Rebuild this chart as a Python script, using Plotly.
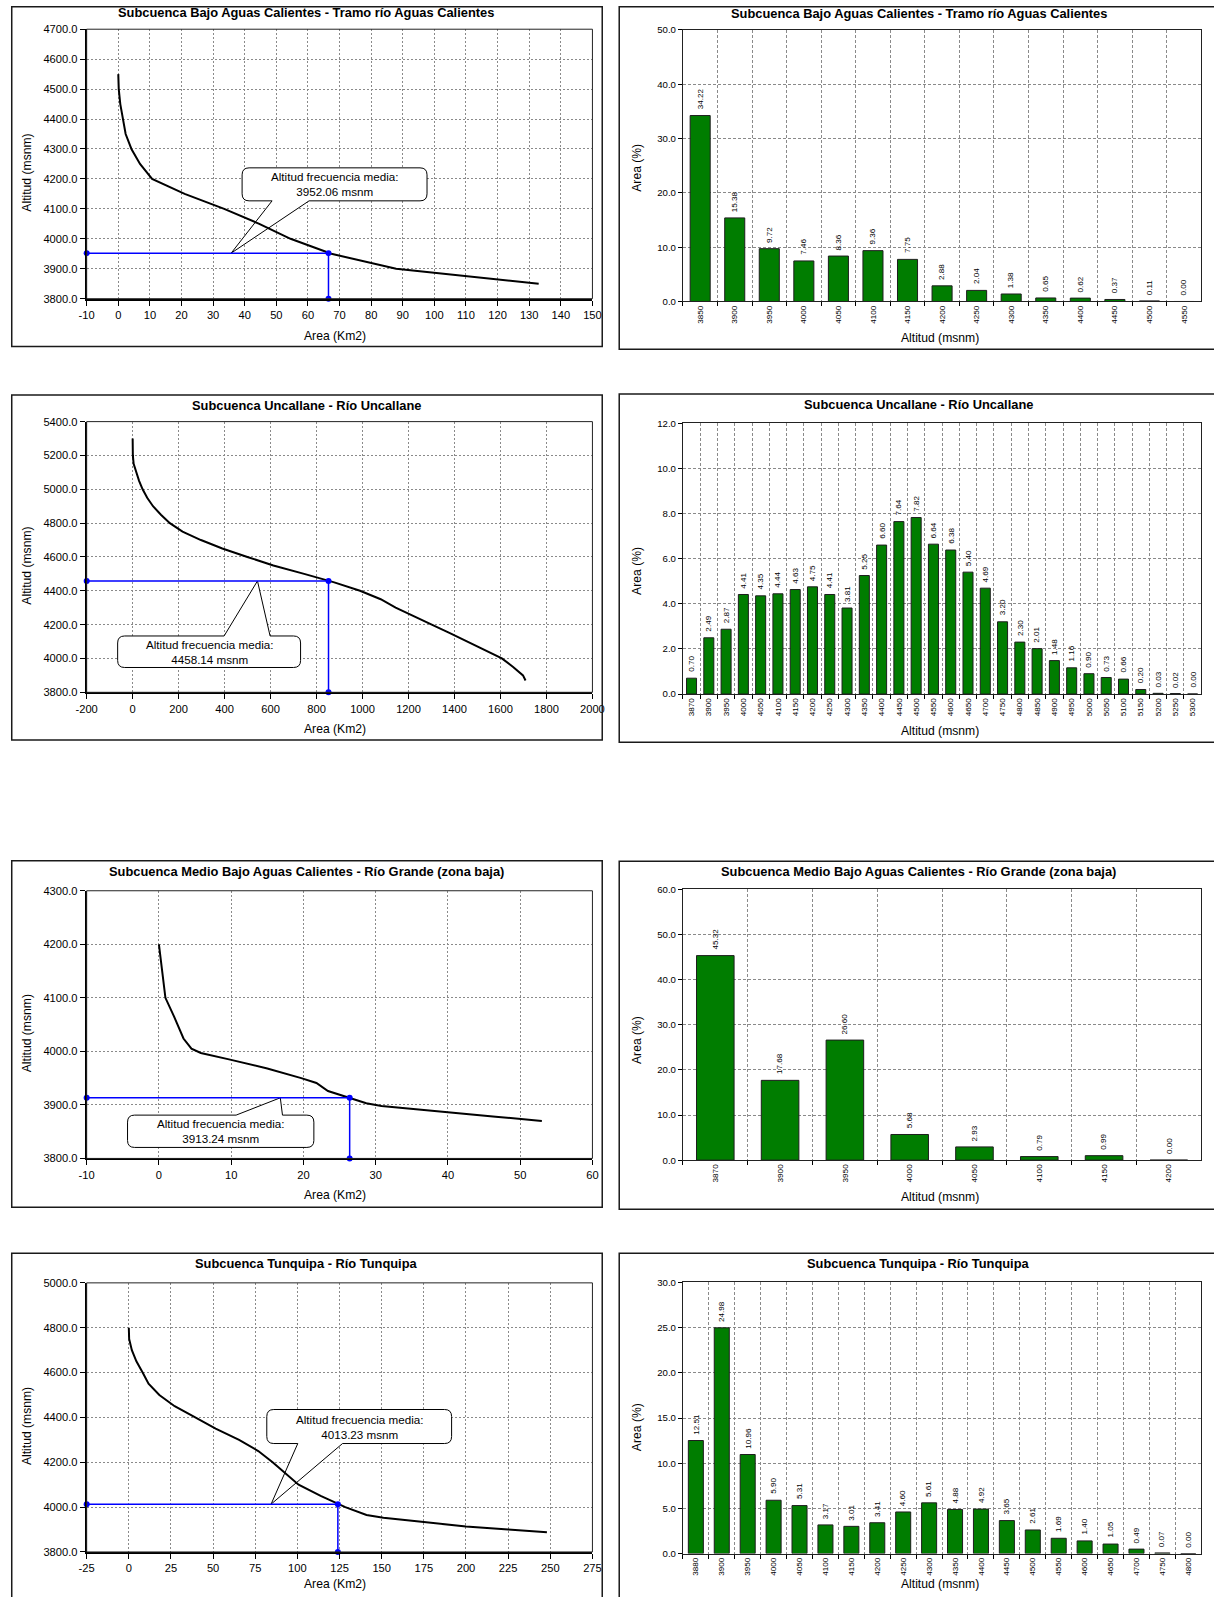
import plotly.graph_objects as go

# figure size; the page places the figure with a small border and a slight
# shrink, so layout positions below are given in page pixels and mapped back
W, H = 1214, 1597
SX, OX = 0.9815, 10.8
SY, OY = 0.9922, 6.2
FONT = "Liberation Sans, Arial, sans-serif"
FS = 1.0 / 0.987   # font compensation for the shrink

# ---------------- data ----------------
# Subcuenca Bajo Aguas Calientes - Tramo río Aguas Calientes
ac_title = "Subcuenca Bajo Aguas Calientes - Tramo río Aguas Calientes"
ac_curve_alt = [4550, 4500, 4450, 4400, 4350, 4300, 4250, 4200, 4150, 4100, 4050, 4000, 3950, 3900, 3850]
ac_curve_area = [0.0, 0.15, 0.64, 1.46, 2.33, 4.16, 6.88, 10.7, 21.0, 33.5, 44.6, 54.5, 67.4, 87.9, 133.0]
ac_mean_alt = 3952.06
ac_mean_area = 66.5
ac_bar_alt = ["3850", "3900", "3950", "4000", "4050", "4100", "4150", "4200",
              "4250", "4300", "4350", "4400", "4450", "4500", "4550"]
ac_bar_pct = [34.22, 15.38, 9.72, 7.46, 8.36, 9.36, 7.75, 2.88, 2.04, 1.38, 0.65, 0.62, 0.37, 0.11, 0.00]

# Subcuenca Uncallane - Río Uncallane
un_title = "Subcuenca Uncallane - Río Uncallane"
un_curve_alt = [5300, 5250, 5200, 5150, 5100, 5050, 5000, 4950, 4900, 4850, 4800, 4750, 4700, 4650,
                4600, 4550, 4500, 4450, 4400, 4350, 4300, 4250, 4200, 4150, 4100, 4050, 4000, 3950,
                3900, 3870]
un_curve_area = [0, 0.3, 0.9, 4.3, 15.6, 28.0, 43.4, 63.3, 88.6, 123, 162, 217, 297, 390,
                 499, 612, 746, 877, 989, 1079, 1144, 1220, 1301, 1380, 1456, 1530, 1606, 1655,
                 1698, 1709]
un_mean_alt = 4458.14
un_mean_area = 852
un_bar_alt = ["3870", "3900", "3950", "4000", "4050", "4100", "4150", "4200", "4250", "4300",
              "4350", "4400", "4450", "4500", "4550", "4600", "4650", "4700", "4750", "4800",
              "4850", "4900", "4950", "5000", "5050", "5100", "5150", "5200", "5250", "5300"]
un_bar_pct = [0.70, 2.49, 2.87, 4.41, 4.35, 4.44, 4.63, 4.75, 4.41, 3.81,
              5.25, 6.60, 7.64, 7.82, 6.64, 6.38, 5.40, 4.69, 3.20, 2.30,
              2.01, 1.48, 1.16, 0.90, 0.73, 0.66, 0.20, 0.03, 0.02, 0.00]

# Subcuenca Medio Bajo Aguas Calientes - Río Grande (zona baja)
mb_title = "Subcuenca Medio Bajo Aguas Calientes - Río Grande (zona baja)"
mb_curve_alt = [4200, 4100, 4065, 4024, 4005, 3997, 3985, 3968, 3950, 3941, 3926, 3913,
                3903, 3898, 3891, 3884, 3878, 3870]
mb_curve_area = [0.0, 0.9, 2.1, 3.4, 4.5, 5.8, 9.7, 15.0, 19.7, 21.8, 23.4, 26.4,
                 28.7, 30.8, 36.0, 41.3, 46.6, 53.0]
mb_mean_alt = 3913.24
mb_mean_area = 26.4
mb_bar_alt = ["3870", "3900", "3950", "4000", "4050", "4100", "4150", "4200"]
mb_bar_pct = [45.32, 17.68, 26.60, 5.68, 2.93, 0.79, 0.99, 0.00]

# Subcuenca Tunquipa - Río Tunquipa
tq_title = "Subcuenca Tunquipa - Río Tunquipa"
tq_curve_alt = [4800, 4750, 4700, 4650, 4600, 4550, 4500, 4450, 4400, 4350, 4300, 4250, 4200,
                4150, 4100, 4050, 4000, 3965, 3952, 3933, 3914, 3900, 3888]
tq_curve_area = [0.0, 0.2, 1.8, 4.5, 8.2, 11.7, 18.1, 27.2, 39.4, 51.5, 65.4, 76.8, 85.3,
                 92.8, 100.7, 113.8, 128.4, 141, 151, 175, 200, 225, 248]
tq_mean_alt = 4013.23
tq_mean_area = 124.0
tq_bar_alt = ["3880", "3900", "3950", "4000", "4050", "4100", "4150", "4200", "4250", "4300",
              "4350", "4400", "4450", "4500", "4550", "4600", "4650", "4700", "4750", "4800"]
tq_bar_pct = [12.51, 24.98, 10.96, 5.90, 5.31, 3.17, 3.01, 3.41, 4.60, 5.61,
              4.88, 4.92, 3.65, 2.61, 1.69, 1.40, 1.05, 0.49, 0.07, 0.00]

# ---------------- layout geometry (page pixels) ----------------
LEFT_X = (86.5, 592.5)
RIGHT_X = (683.0, 1207.0)
LEFT_Y = [(29.4, 298.8), (421.7, 692.3), (890.7, 1158.3), (1282.7, 1551.7)]
RIGHT_Y = [(30.0, 301.6), (423.3, 694.0), (889.3, 1160.0), (1282.3, 1553.3)]
PANEL_L = [(2.5, 346.7), (395.0, 740.0), (860.7, 1207.0), (1253.0, 1640.0)]
PANEL_R = [(2.7, 349.3), (394.0, 742.3), (861.3, 1209.0), (1253.0, 1640.0)]
YTITLE_R = [168, 571, 1040, 1427]
XTITLE_MAX = 1584

panels = [
    dict(title=ac_title, alt=ac_curve_alt, area=ac_curve_area, mean=ac_mean_alt, xi=ac_mean_area,
         xr=(-10, 150), xd=10, yr=(3800, 4700), yd=100,
         cats=ac_bar_alt, pct=ac_bar_pct, br=(0, 50), bd=10,
         box=(242, 168, 427, 201), base=(272, 309), tipx=35.7, side="bottom"),
    dict(title=un_title, alt=un_curve_alt, area=un_curve_area, mean=un_mean_alt, xi=un_mean_area,
         xr=(-200, 2000), xd=200, yr=(3800, 5400), yd=200,
         cats=un_bar_alt, pct=un_bar_pct, br=(0, 12), bd=2,
         box=(117.5, 636, 300.5, 667.5), base=(224, 270), tipx=543, side="top"),
    dict(title=mb_title, alt=mb_curve_alt, area=mb_curve_area, mean=mb_mean_alt, xi=mb_mean_area,
         xr=(-10, 60), xd=10, yr=(3800, 4300), yd=100,
         cats=mb_bar_alt, pct=mb_bar_pct, br=(0, 60), bd=10,
         box=(127.4, 1115, 313.8, 1147.3), base=(236, 282.4), tipx=16.8, side="top"),
    dict(title=tq_title, alt=tq_curve_alt, area=tq_curve_area, mean=tq_mean_alt, xi=tq_mean_area,
         xr=(-25, 275), xd=25, yr=(3800, 5000), yd=200,
         cats=tq_bar_alt, pct=tq_bar_pct, br=(0, 30), bd=5,
         box=(266.7, 1409.3, 451.6, 1443.3), base=(297.7, 342.5), tipx=84.4, side="bottom"),
]


def fx(t, lo=0.75, hi=W - 0.75):
    px = (t - OX) / SX
    return min(hi, max(lo, px)) / W


def fy(t, lo=0.75, hi=H - 0.75):
    py = (t - OY) / SY
    return 1 - min(hi, max(lo, py)) / H


def fxu(t):
    return (t - OX) / SX / W


def fyu(t):
    return 1 - (t - OY) / SY / H


fig = go.Figure()
layout = dict(
    width=W, height=H, margin=dict(l=0, r=0, t=0, b=0),
    paper_bgcolor="white", plot_bgcolor="white",
    showlegend=False, bargap=0.42,
    font=dict(family=FONT, color="black"),
)
shapes = []
annotations = []

for i, p in enumerate(panels):
    la, ra = 2 * i + 1, 2 * i + 2
    lx, ly = f"x{la}", f"y{la}"
    rx, ry = f"x{ra}", f"y{ra}"
    y0, y1 = LEFT_Y[i]
    ry0, ry1 = RIGHT_Y[i]

    # ---- hypsometric curve panel ----
    xt = list(range(p["xr"][0], p["xr"][1] + 1, p["xd"]))
    layout[f"xaxis{la}"] = dict(
        domain=[fx(LEFT_X[0]), fx(LEFT_X[1])], anchor=ly, range=list(p["xr"]),
        tickmode="array", tickvals=xt, ticktext=[str(v) for v in xt],
        showgrid=True, gridcolor="#8a8a8a", griddash="2px,2px", gridwidth=1,
        zeroline=False, showline=True, linecolor="black", linewidth=2,
        ticks="outside", ticklen=5, tickcolor="black", tickfont=dict(size=11 * FS, family=FONT),
    )
    layout[f"yaxis{la}"] = dict(
        domain=[fy(y1), fy(y0)], anchor=lx, range=list(p["yr"]), dtick=p["yd"],
        tick0=p["yr"][0], tickformat=".1f", showgrid=True, gridcolor="#8a8a8a",
        griddash="2px,2px", gridwidth=1, zeroline=False, showline=True, linecolor="black",
        linewidth=2, ticks="outside", ticklen=5, tickcolor="black",
        tickfont=dict(size=11 * FS, family=FONT),
    )
    fig.add_trace(go.Scatter(
        x=p["area"], y=p["alt"], mode="lines", line=dict(color="black", width=2),
        xaxis=lx, yaxis=ly, hoverinfo="skip",
    ))
    fig.add_trace(go.Scatter(
        x=[p["xr"][0], p["xi"], p["xi"]], y=[p["mean"], p["mean"], p["yr"][0]],
        mode="lines+markers", line=dict(color="#0000ff", width=1.5),
        marker=dict(color="#0000ff", size=6), cliponaxis=False,
        xaxis=lx, yaxis=ly, hoverinfo="skip",
    ))

    # callout bubble, built in page pixels and converted to data units of this subplot
    def to_data(px, py, p=p, y0=y0, y1=y1):
        xa, xb = p["xr"]
        ya, yb = p["yr"]
        dx = xa + (px - LEFT_X[0]) / (LEFT_X[1] - LEFT_X[0]) * (xb - xa)
        dy = yb - (py - y0) / (y1 - y0) * (yb - ya)
        return f"{dx:.4f},{dy:.4f}"

    L, T, R, B = p["box"]
    b0, b1 = p["base"]
    r = 7
    tip = f"{p['tipx']:.4f},{p['mean']:.4f}"
    path = "M " + to_data(L + r, T)
    if p["side"] == "top":
        path += " L " + to_data(b0, T) + " L " + tip + " L " + to_data(b1, T)
    path += " L " + to_data(R - r, T)
    path += " Q " + to_data(R, T) + " " + to_data(R, T + r)
    path += " L " + to_data(R, B - r)
    path += " Q " + to_data(R, B) + " " + to_data(R - r, B)
    if p["side"] == "bottom":
        path += " L " + to_data(b1, B) + " L " + tip + " L " + to_data(b0, B)
    path += " L " + to_data(L + r, B)
    path += " Q " + to_data(L, B) + " " + to_data(L, B - r)
    path += " L " + to_data(L, T + r)
    path += " Q " + to_data(L, T) + " " + to_data(L + r, T) + " Z"
    shapes.append(dict(type="path", path=path, xref=lx, yref=ly, layer="between",
                       fillcolor="white", line=dict(color="black", width=1)))
    annotations.append(dict(
        x=fxu((L + R) / 2), y=fyu((T + B) / 2), xref="paper", yref="paper",
        text=f"Altitud frecuencia media:<br>{p['mean']:.2f} msnm", showarrow=False,
        font=dict(size=11.5 * FS, family=FONT, color="black"), align="center",
        xanchor="center", yanchor="middle",
    ))

    # plot frame and panel frame
    shapes.append(dict(type="rect", xref="paper", yref="paper",
                       x0=fx(LEFT_X[0]), x1=fx(LEFT_X[1]), y0=fy(y1), y1=fy(y0),
                       line=dict(color="#222222", width=1)))
    pt, pb = PANEL_L[i]
    shapes.append(dict(type="rect", xref="paper", yref="paper",
                       x0=fx(7.2), x1=fx(602.3), y0=fy(pb, hi=H + 20), y1=fy(pt),
                       line=dict(color="#1a1a1a", width=1.5)))
    annotations.append(dict(x=fxu(306), y=fyu(pt + 10.5), xref="paper", yref="paper",
                            text=f"<b>{p['title']}</b>", showarrow=False,
                            font=dict(size=12.7 * FS, family=FONT), xanchor="center", yanchor="middle"))
    annotations.append(dict(x=fxu(335), y=fyu(min(y1 + 37, XTITLE_MAX)), xref="paper", yref="paper",
                            text="Area (Km2)", showarrow=False,
                            font=dict(size=12 * FS, family=FONT), xanchor="center", yanchor="middle"))
    annotations.append(dict(x=fxu(27), y=fyu((y0 + y1) / 2 + 8.5), xref="paper", yref="paper",
                            text="Altitud (msnm)", showarrow=False, textangle=-90,
                            font=dict(size=12 * FS, family=FONT), xanchor="center", yanchor="middle"))

    # ---- area distribution bar panel ----
    n = len(p["cats"])
    layout[f"xaxis{ra}"] = dict(
        domain=[fx(RIGHT_X[0]), fx(RIGHT_X[1])], anchor=ry, type="category",
        range=[-0.5, n - 0.5],
        tickson="boundaries", ticks="outside", ticklen=4, tickcolor="black", tickangle=-90,
        tickfont=dict(size=8 * FS, family=FONT), showgrid=True, gridcolor="#8a8a8a",
        griddash="3px,2px", gridwidth=1, showline=True, mirror=True,
        linecolor="#222222", linewidth=1, zeroline=False,
    )
    layout[f"yaxis{ra}"] = dict(
        domain=[fy(ry1), fy(ry0)], anchor=rx, range=list(p["br"]), dtick=p["bd"],
        tick0=0, tickformat=".1f", ticks="outside", ticklen=4, tickcolor="black",
        tickfont=dict(size=9.5 * FS, family=FONT), showgrid=True, gridcolor="#8a8a8a",
        griddash="3px,2px", gridwidth=1, showline=True, mirror=True,
        linecolor="#222222", linewidth=1, zeroline=False,
    )
    fig.add_trace(go.Bar(
        x=p["cats"], y=p["pct"],
        marker=dict(color="#007d00", line=dict(color="#1e1e1e", width=1)),
        xaxis=rx, yaxis=ry, hoverinfo="skip",
    ))
    # value labels above each bar, rotated (x given as category position)
    for j, v in enumerate(p["pct"]):
        annotations.append(dict(
            x=j, y=v, xref=rx, yref=ry, text=f"{v:.2f}", showarrow=False, textangle=-90,
            xanchor="center", yanchor="bottom", yshift=4,
            font=dict(size=8 * FS, family=FONT, color="black"),
        ))
    qt, qb = PANEL_R[i]
    shapes.append(dict(type="rect", xref="paper", yref="paper",
                       x0=fx(619.3), x1=fx(1240, hi=W + 20), y0=fy(qb, hi=H + 20), y1=fy(qt),
                       line=dict(color="#1a1a1a", width=1.5)))
    annotations.append(dict(x=fxu(919), y=fyu(qt + 10.5), xref="paper", yref="paper",
                            text=f"<b>{p['title']}</b>", showarrow=False,
                            font=dict(size=12.7 * FS, family=FONT), xanchor="center", yanchor="middle"))
    annotations.append(dict(x=fxu(940), y=fyu(min(ry1 + 37, XTITLE_MAX)), xref="paper", yref="paper",
                            text="Altitud (msnm)", showarrow=False,
                            font=dict(size=12 * FS, family=FONT), xanchor="center", yanchor="middle"))
    annotations.append(dict(x=fxu(637), y=fyu(YTITLE_R[i]), xref="paper", yref="paper",
                            text="Area (%)", showarrow=False, textangle=-90,
                            font=dict(size=12 * FS, family=FONT), xanchor="center", yanchor="middle"))

layout["shapes"] = shapes
layout["annotations"] = annotations
fig.update_layout(**layout)

fig.write_html("out.html")
